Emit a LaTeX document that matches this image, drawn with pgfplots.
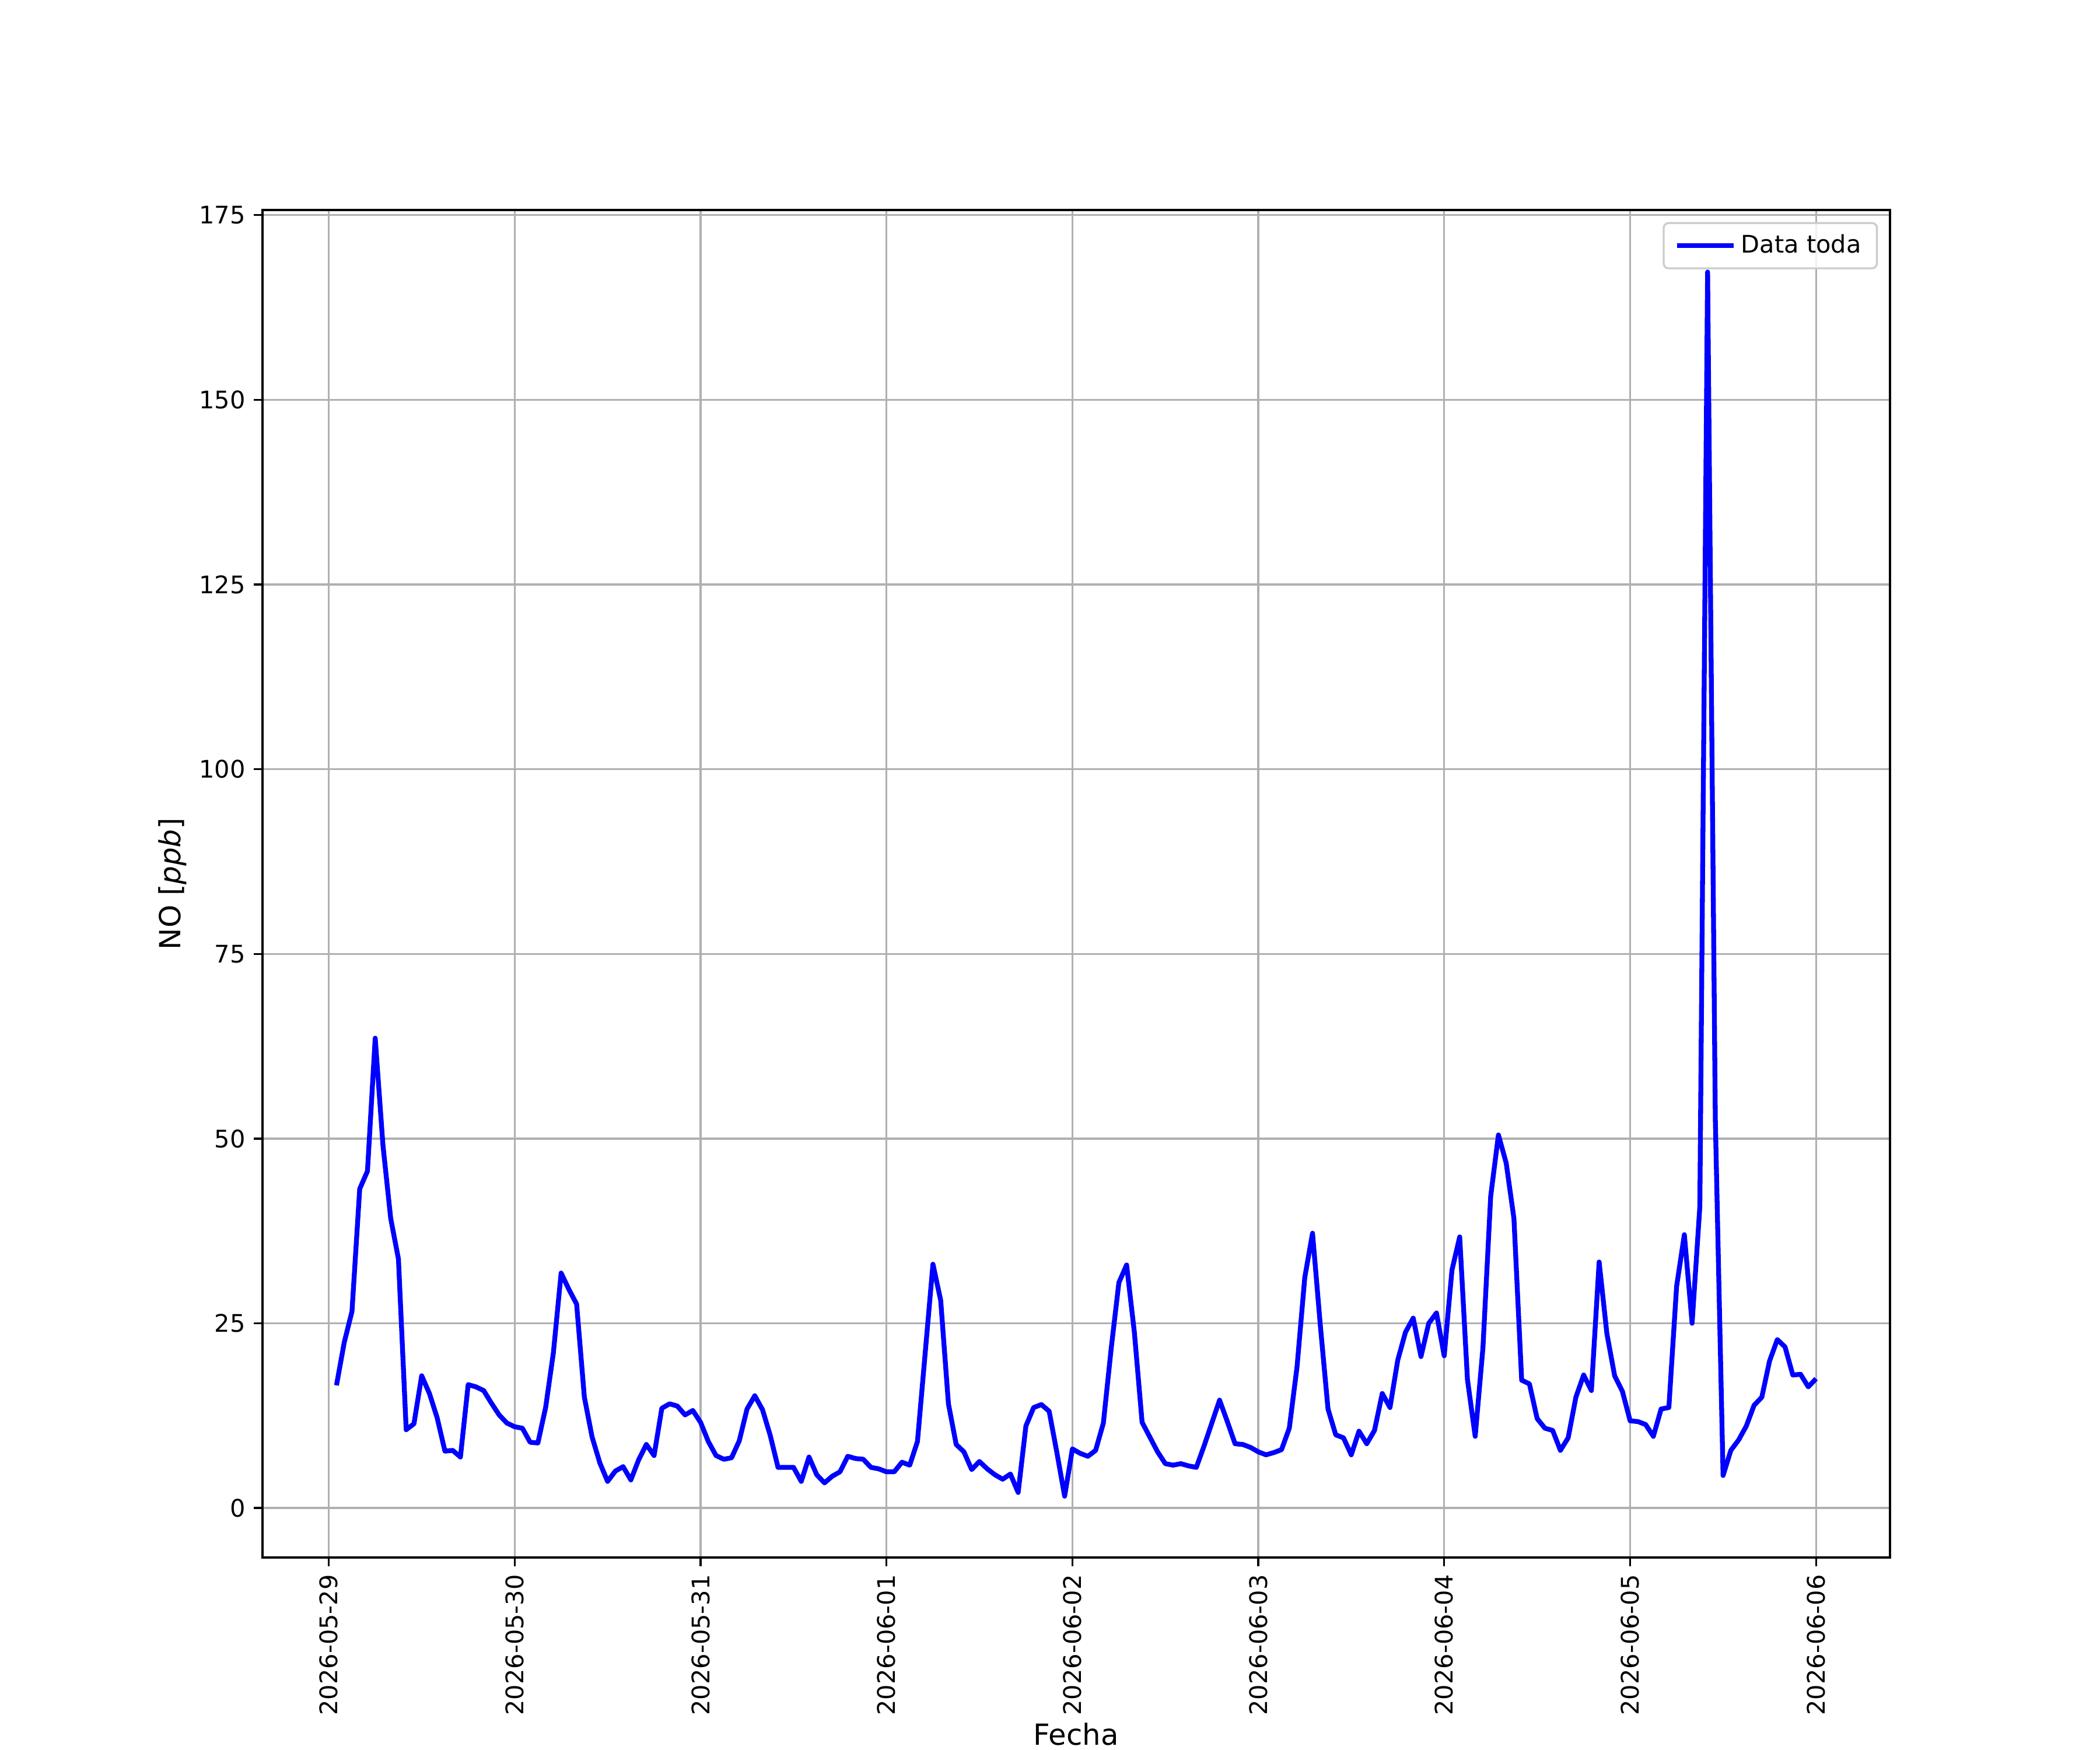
\documentclass[border=0pt]{standalone}
\usepackage{fontspec}
\setmainfont{DejaVu Sans}
\usepackage{pgfplots}
\pgfplotsset{compat=1.18}
\usepackage{pgfplotstable}
\definecolor{gridgray}{HTML}{B0B0B0}
\definecolor{legedge}{HTML}{CCCCCC}
\pgfplotstableread{
h v
1 16.6
2 22.4
3 26.6
4 43.2
5 45.6
6 63.6
7 49.1
8 39.2
9 33.7
10 10.6
11 11.4
12 17.9
13 15.5
14 12.2
15 7.7
16 7.8
17 6.9
18 16.7
19 16.4
20 15.9
21 14.2
22 12.6
23 11.5
24 11.0
25 10.8
26 8.9
27 8.8
28 13.6
29 21.0
30 31.8
31 29.6
32 27.6
33 15.0
34 9.6
35 6.1
36 3.6
37 5.0
38 5.6
39 3.8
40 6.5
41 8.6
42 7.1
43 13.5
44 14.1
45 13.8
46 12.6
47 13.2
48 11.6
49 9.0
50 7.1
51 6.6
52 6.8
53 9.1
54 13.4
55 15.2
56 13.3
57 9.8
58 5.5
59 5.5
60 5.5
61 3.6
62 6.9
63 4.5
64 3.4
65 4.3
66 4.9
67 7.0
68 6.7
69 6.6
70 5.5
71 5.3
72 4.9
73 4.9
74 6.2
75 5.8
76 9.0
77 21.0
78 33.0
79 28.1
80 14.1
81 8.6
82 7.6
83 5.2
84 6.3
85 5.3
86 4.5
87 3.9
88 4.6
89 2.1
90 11.1
91 13.6
92 14.0
93 13.1
94 7.5
95 1.6
96 8.0
97 7.4
98 7.0
99 7.8
100 11.5
101 21.5
102 30.5
103 32.9
104 23.8
105 11.6
106 9.6
107 7.6
108 6.0
109 5.8
110 6.0
111 5.7
112 5.5
113 8.4
114 11.5
115 14.6
116 11.7
117 8.7
118 8.6
119 8.2
120 7.6
121 7.2
122 7.5
123 7.9
124 10.8
125 19.1
126 31.2
127 37.2
128 24.8
129 13.4
130 9.9
131 9.5
132 7.2
133 10.4
134 8.7
135 10.5
136 15.5
137 13.6
138 20.0
139 23.8
140 25.7
141 20.5
142 25.0
143 26.4
144 20.6
145 32.2
146 36.7
147 17.4
148 9.7
149 21.7
150 42.2
151 50.5
152 46.7
153 39.2
154 17.3
155 16.8
156 12.1
157 10.8
158 10.5
159 7.8
160 9.5
161 15.0
162 18.0
163 15.9
164 33.3
165 23.6
166 17.9
167 15.8
168 11.8
169 11.7
170 11.3
171 9.7
172 13.4
173 13.6
174 30.0
175 37.0
176 25.0
177 40.8
178 167.3
179 52.5
180 4.4
181 7.8
182 9.2
183 11.1
184 13.9
185 15.0
186 19.9
187 22.8
188 21.8
189 18.0
190 18.1
191 16.4
192 17.5
}\datatable
\begin{document}
\begin{tikzpicture}
\path[use as bounding box] (-1.5in,-1.1in) rectangle (10.5in,8.9in);
\begin{axis}[
  at={(0,0)}, anchor=south west,
  scale only axis, width=9.3in, height=7.7in,
  xmin=-8.55, xmax=201.55, ymin=-6.7, ymax=175.7,
  xtick={0,24,48,72,96,120,144,168,192},
  xticklabels={2026-05-29,2026-05-30,2026-05-31,2026-06-01,2026-06-02,2026-06-03,2026-06-04,2026-06-05,2026-06-06},
  ytick={0,25,50,75,100,125,150,175},
  /pgf/number format/assume math mode=true,
  ticklabel style={font=\fontsize{10}{12}\selectfont},
  x tick label style={rotate=90, anchor=east},
  tick pos=left, tick align=outside, major tick length=3.5pt,
  tick style={black, line width=0.8pt},
  axis line style={line width=0.8pt},
  grid=major, major grid style={draw=gridgray, line width=0.8pt},
  xlabel={Fecha}, ylabel={NO [\textit{ppb}]},
  label style={font=\fontsize{12}{14.4}\selectfont},
  xlabel style={at={(axis description cs:0.5,0)}, anchor=base, inner sep=0pt, yshift=-77.5pt},
  ylabel style={at={([xshift=-31.2pt]axis description cs:0,0.5)}, anchor=south, inner sep=0pt},
  legend style={at={(1,1)}, anchor=north east, xshift=-5pt, yshift=-5pt,
    draw=legedge, line width=0.8pt, rounded corners=2pt, fill=white, fill opacity=0.8, text opacity=1,
    font=\fontsize{10}{12}\selectfont, inner xsep=4.5pt, inner ysep=2.8pt},
  legend cell align=left,
  legend image code/.code={\path (0pt,0pt) -- (23.5pt,0pt); \draw[#1] (0pt,0pt) -- (20pt,0pt);},
]
\addplot[color=blue, line width=2pt, line join=round] table[x=h, y=v] {\datatable};
\addlegendentry{Data toda}
\end{axis}
\end{tikzpicture}
\end{document}
